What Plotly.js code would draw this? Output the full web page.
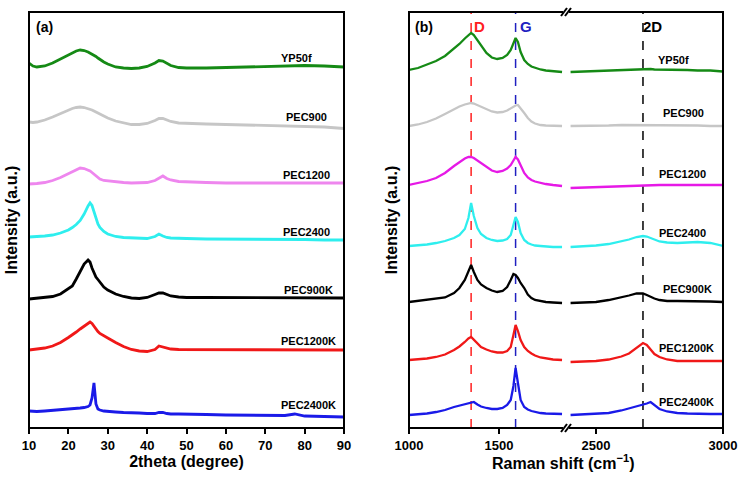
<!DOCTYPE html>
<html>
<head>
<meta charset="utf-8">
<script src="https://cdn.plot.ly/plotly-3.0.1.min.js"></script>
<style>html,body{margin:0;padding:0;background:#fff;}#chart{width:748px;height:477px;}</style>
</head>
<body>
<div id="chart"></div>
<script>
// ---------- DATA ----------
const sampleNames = ["YP50f", "PEC900", "PEC1200", "PEC2400", "PEC900K", "PEC1200K", "PEC2400K"];

// (a) XRD, 2theta (degree) — stacked intensities (a.u.)
const xrdTheta = [10, 11, 12, 14, 16, 18, 20, 21, 22, 23, 24, 25, 25.5, 26, 26.5, 27, 27.5, 28, 29, 30, 32, 34, 36, 38, 40, 42, 43, 44, 45, 46, 48, 50, 55, 60, 65, 70, 75, 77.5, 80, 85, 90];
const xrdYP50f    = [365, 362, 361, 362, 365, 369, 373, 375.5, 377, 378, 377.5, 376, 375, 374, 373, 371.5, 370, 368.5, 366, 364, 361, 360, 359.5, 360, 361.5, 365, 367.5, 367, 364.5, 362.5, 360.5, 360, 360, 360.5, 360.5, 361, 362, 362.5, 362.5, 362, 361];
const xrdPEC900   = [306, 305.5, 306, 308, 311, 314.5, 318, 319.5, 320.5, 321, 320.5, 319.5, 319, 318, 317, 316, 315, 314, 312, 310, 307, 305, 303.5, 303.5, 304.5, 307.5, 309.5, 309.5, 308, 306.5, 305, 304.5, 304, 303.5, 303, 302.5, 302, 302, 302, 301, 299.5];
const xrdPEC1200  = [244, 244, 244.5, 245.5, 247.5, 250.5, 254.5, 256.5, 258.5, 260, 259.5, 258, 257, 255.5, 254, 252, 250.5, 249, 247.5, 247, 246, 245.5, 245, 245, 245.5, 247.5, 249.5, 252, 249.5, 248, 246.5, 246, 245.5, 245, 245, 245, 245, 245, 245, 245, 245];
const xrdPEC2400  = [191, 191, 191.5, 192, 193, 195, 198, 200.5, 203.5, 207.5, 214, 222, 225, 222.5, 216, 209, 204, 200.5, 196.5, 194, 191.5, 190.5, 190, 189.5, 189.5, 191.5, 194, 192, 190.5, 190, 189.5, 189.5, 189, 189, 188.5, 188.5, 188.5, 188.5, 188.5, 188, 188];
const xrdPEC900K  = [129, 129.5, 130, 130.5, 131.5, 134, 139, 142, 149, 156, 164, 168, 166, 160, 154.5, 151, 148.5, 146, 141, 138, 134, 131.5, 130, 129.5, 130.5, 133.5, 135, 135, 133.5, 132, 131, 130.5, 130.5, 130.5, 130.5, 130, 130, 130, 130, 130, 130];
const xrdPEC1200K = [78, 78.5, 79, 80, 82, 85.5, 90.5, 93, 96, 99, 102, 105, 106, 104.5, 101.5, 98.5, 96.5, 94.5, 92, 90, 85.5, 81.5, 78.5, 77, 76.5, 78.5, 82, 81, 79.5, 79, 78.5, 78.5, 78.5, 78.5, 78, 78, 78, 78, 78, 78, 78];
const xrdPEC2400K = [17, 16.5, 16.5, 17, 17.5, 18, 18.5, 19, 19.5, 20, 20.5, 21.5, 23, 30, 45, 24, 19, 18, 17, 16.5, 16, 15.5, 15.5, 15, 14.5, 14.5, 15.5, 15.5, 14.5, 14, 14, 14, 13.5, 13, 13, 12.5, 12.5, 14, 12, 11.5, 11];

// (b) Raman, shift (cm-1) — low-shift segment
const ramanShiftLow = [1000, 1050, 1100, 1150, 1200, 1250, 1280, 1310, 1330, 1345, 1360, 1380, 1400, 1430, 1460, 1490, 1520, 1545, 1565, 1580, 1592, 1605, 1620, 1640, 1660, 1680, 1700, 1730, 1760, 1800, 1850];
const ramanLowYP50f    = [358, 360, 363.5, 367, 372, 379, 384, 389.5, 393, 395, 393, 388, 382, 375, 370.5, 369, 370, 373, 378, 385, 390, 386, 376, 368, 364, 361.5, 360, 358.5, 357.5, 357, 356];
const ramanLowPEC900   = [302, 303.5, 306, 309.5, 314, 319, 321.5, 323.5, 324.5, 325, 324.5, 323, 321, 318.5, 316.5, 315.5, 316, 317.5, 319.5, 321.5, 322.5, 323, 320, 315, 310, 306.5, 304.5, 303, 302.5, 302, 302];
const ramanLowPEC1200  = [243, 245, 247, 250, 255, 262, 266, 269.5, 271, 271, 270, 267.5, 264.5, 260.5, 257.5, 256, 257, 259.5, 263, 267.5, 271, 268.5, 262, 255, 250.5, 248, 246.5, 245, 244, 243, 242];
const ramanLowPEC2400  = [182, 182.5, 183.5, 185, 187, 190, 193, 199, 210, 225, 212, 200, 194, 190, 188, 187, 187.5, 189, 193, 203, 211, 206, 195, 188, 185, 183.5, 182.5, 182, 181.5, 181, 181];
const ramanLowPEC900K  = [126, 127, 128, 129, 130.5, 135, 140, 148, 157, 163, 156, 148, 143.5, 140, 137.5, 136, 137, 141, 148, 154, 153, 150, 145, 140, 133.5, 130, 128, 127, 126, 125.5, 125];
const ramanLowPEC1200K = [68, 68.5, 69.5, 71, 73.5, 78, 81.5, 86, 89.5, 91, 88.5, 84.5, 81, 78.5, 76.5, 75.5, 75.5, 77, 81, 93, 103, 97, 88, 81, 77, 74.5, 72.5, 70.5, 69.5, 68.5, 68];
const ramanLowPEC2400K = [13, 13.5, 14.5, 16, 18, 21, 22.5, 24, 25, 26, 26, 23.5, 21.5, 20, 19, 19, 20, 23, 28, 42, 60, 45, 28, 21, 18.5, 17, 16, 15, 14.5, 14, 14];

// (b) Raman — high-shift segment (after axis break)
const ramanShiftHigh = [2400, 2450, 2500, 2550, 2600, 2630, 2660, 2685, 2700, 2715, 2730, 2750, 2780, 2820, 2860, 2900, 2950, 3000];
const ramanHighYP50f    = [356, 356.5, 357, 357.5, 358, 358.5, 359, 359, 359, 359, 358.5, 358.5, 358, 358, 358, 357.5, 357.5, 356.5];
const ramanHighPEC900   = [302, 302, 302.5, 302.5, 303, 303, 303, 303, 303, 303, 303, 302.5, 302.5, 302.5, 302.5, 302.5, 302, 302];
const ramanHighPEC1200  = [240, 240.5, 241, 241.5, 242, 242, 242.5, 242.5, 242.5, 242.5, 243, 243, 243, 243, 243, 243.5, 243.5, 243];
const ramanHighPEC2400  = [181, 181.5, 182.5, 184, 186.5, 188.5, 191, 192, 191.5, 190, 188, 186.5, 185.5, 185, 185.5, 186, 185, 182];
const ramanHighPEC900K  = [125, 125.5, 126, 128, 130.5, 132.5, 134.5, 134.5, 133, 131, 129.5, 128, 127, 127, 127, 126.5, 126.5, 126];
const ramanHighPEC1200K = [66, 66.5, 67, 68.5, 71.5, 74.5, 80, 85, 83, 79, 74, 71, 68.5, 67, 67, 67, 67, 67];
const ramanHighPEC2400K = [13, 13.5, 14, 15, 17.5, 19.5, 21.5, 23, 24.5, 26, 23, 19, 16.5, 15, 14.5, 14, 14, 14];

// Reference band positions (cm-1)
const bandNames = ["D", "G", "2D"];
const bandShifts = [1345, 1592, 2685];

// Tick labels
const xrdTicks = [10, 20, 30, 40, 50, 60, 70, 80, 90];
const ramanTicksLow = [1000, 1500];
const ramanTicksHigh = [2500, 3000];

// ---------- STYLE ----------
const xrdColors   = ["#158a15", "#c6c6c6", "#ee86ee", "#2eeeee", "#000000", "#f01818", "#1a1ae8"];
const ramanColors = ["#158a15", "#c6c6c6", "#e619e6", "#2eeeee", "#000000", "#f01818", "#1a1ae8"];
const bandColors = ["#ff2020", "#2020c0", "#000000"];

const xrdSeries = [xrdYP50f, xrdPEC900, xrdPEC1200, xrdPEC2400, xrdPEC900K, xrdPEC1200K, xrdPEC2400K];
const ramanLow = [ramanLowYP50f, ramanLowPEC900, ramanLowPEC1200, ramanLowPEC2400, ramanLowPEC900K, ramanLowPEC1200K, ramanLowPEC2400K];
const ramanHigh = [ramanHighYP50f, ramanHighPEC900, ramanHighPEC1200, ramanHighPEC2400, ramanHighPEC900K, ramanHighPEC1200K, ramanHighPEC2400K];

const W = 748, H = 477;
const FONT = "Liberation Sans, Arial, sans-serif";
const px = v => v / W, py = v => 1 - v / H;

const dA = [px(29), px(344)];
const dBlow = [px(409), px(566)];
const dBhigh = [px(566), px(723)];
const dY = [py(428), py(12)];

const traces = [];
sampleNames.forEach((n, i) => {
  traces.push({x: xrdTheta, y: xrdSeries[i], xaxis: "x", yaxis: "y", mode: "lines", name: n,
    line: {color: xrdColors[i], width: 2.8}, showlegend: false, hoverinfo: "skip"});
  traces.push({x: ramanShiftLow, y: ramanLow[i], xaxis: "x2", yaxis: "y2", mode: "lines", name: n,
    line: {color: ramanColors[i], width: 2.3}, showlegend: false, hoverinfo: "skip"});
  traces.push({x: ramanShiftHigh, y: ramanHigh[i], xaxis: "x3", yaxis: "y2", mode: "lines", name: n,
    line: {color: ramanColors[i], width: 2.3}, showlegend: false, hoverinfo: "skip"});
});

const tickFont = {family: FONT, size: 13, color: "#000", weight: "bold"};
const baseX = {showgrid: false, zeroline: false, showline: false, ticks: "outside", ticklen: 5, tickwidth: 2,
  tickcolor: "#000", tickfont: tickFont, automargin: false, fixedrange: true};

const xrdLabelY = [370, 311, 253, 196, 138, 87, 23];
const xrdLabelX = [73.6, 74.7, 73.9, 73.9, 74.3, 73.6, 73.6];
const ramanLabelY = [368, 315, 254, 195, 139, 80, 26];
const ramanLabelX = [2736, 2756, 2740, 2740, 2756, 2740, 2740];

const annotations = [];
sampleNames.forEach((n, i) => {
  annotations.push({text: n, xref: "x", yref: "y", x: xrdLabelX[i], y: xrdLabelY[i], xanchor: "left", yanchor: "middle",
    showarrow: false, font: {family: FONT, size: 11, color: "#000", weight: "bold"}});
  annotations.push({text: n, xref: "x3", yref: "y2", x: ramanLabelX[i], y: ramanLabelY[i], xanchor: "left", yanchor: "middle",
    showarrow: false, font: {family: FONT, size: 11, color: "#000", weight: "bold"}});
});
annotations.push({text: "(a)", xref: "x", yref: "y", x: 14, y: 401, showarrow: false,
  font: {family: FONT, size: 14, color: "#000", weight: "bold"}});
annotations.push({text: "(b)", xref: "x2", yref: "y2", x: 1083, y: 401, showarrow: false,
  font: {family: FONT, size: 14, color: "#000", weight: "bold"}});
const bandLabelX = [1392, 1650, 2724];
const bandLabelRef = ["x2", "x2", "x3"];
bandNames.forEach((b, i) => {
  annotations.push({text: b, xref: bandLabelRef[i], yref: "y2", x: bandLabelX[i], y: 401, showarrow: false,
    font: {family: FONT, size: 15, color: bandColors[i], weight: "bold"}});
});
annotations.push({text: "Raman shift (cm<sup>−1</sup>)", xref: "paper", yref: "paper", x: px(563), y: py(462),
  xanchor: "center", yanchor: "middle", showarrow: false, font: {family: FONT, size: 16, color: "#000", weight: "bold"}});

const shapes = [];
const frame = (x0, x1) => ({type: "rect", xref: "paper", yref: "paper", x0: x0, x1: x1, y0: dY[0], y1: dY[1],
  line: {color: "#000", width: 2}, fillcolor: "rgba(0,0,0,0)", layer: "above"});
shapes.push(frame(dA[0], dA[1]));
shapes.push(frame(dBlow[0], dBhigh[1]));
bandShifts.forEach((s, i) => {
  shapes.push({type: "line", xref: bandLabelRef[i], yref: "paper", x0: s, x1: s, y0: dY[0], y1: dY[1],
    line: {color: bandColors[i], width: 1.5, dash: "dash"}, layer: "below"});
});
// axis break marks
[428, 12].forEach(yy => {
  shapes.push({type: "rect", xref: "paper", yref: "paper", x0: px(563), x1: px(569), y0: py(yy + 1.5), y1: py(yy - 1.5),
    line: {width: 0}, fillcolor: "#fff", layer: "above"});
  [561, 565].forEach(xx => {
    shapes.push({type: "line", xref: "paper", yref: "paper", x0: px(xx), y0: py(yy + 4), x1: px(xx + 6), y1: py(yy - 4),
      line: {color: "#000", width: 2}, layer: "above"});
  });
});

const layout = {
  width: W, height: H,
  margin: {l: 0, r: 0, t: 0, b: 0},
  paper_bgcolor: "#fff", plot_bgcolor: "#fff",
  font: {family: FONT, color: "#000"},
  showlegend: false,
  xaxis: Object.assign({}, baseX, {domain: dA, range: [10, 90], tickvals: xrdTicks, anchor: "y",
    title: {text: "2theta (degree)", standoff: 3, font: {family: FONT, size: 16, color: "#000", weight: "bold"}}}),
  yaxis: {domain: dY, range: [0, 416], showticklabels: false, ticks: "", showgrid: false, zeroline: false, showline: false,
    anchor: "x", automargin: false, fixedrange: true,
    title: {text: "Intensity (a.u.)", standoff: 6, font: {family: FONT, size: 16, color: "#000", weight: "bold"}}},
  xaxis2: Object.assign({}, baseX, {domain: dBlow, range: [1000, 1872], tickvals: ramanTicksLow, anchor: "y2"}),
  xaxis3: Object.assign({}, baseX, {domain: dBhigh, range: [2382, 3000], tickvals: ramanTicksHigh, anchor: "y2"}),
  yaxis2: {domain: dY, range: [0, 416], showticklabels: false, ticks: "", showgrid: false, zeroline: false, showline: false,
    anchor: "x2", automargin: false, fixedrange: true,
    title: {text: "Intensity (a.u.)", standoff: 6, font: {family: FONT, size: 16, color: "#000", weight: "bold"}}},
  annotations: annotations,
  shapes: shapes
};

Plotly.newPlot("chart", traces, layout, {staticPlot: true, displayModeBar: false});
</script>
</body>
</html>
